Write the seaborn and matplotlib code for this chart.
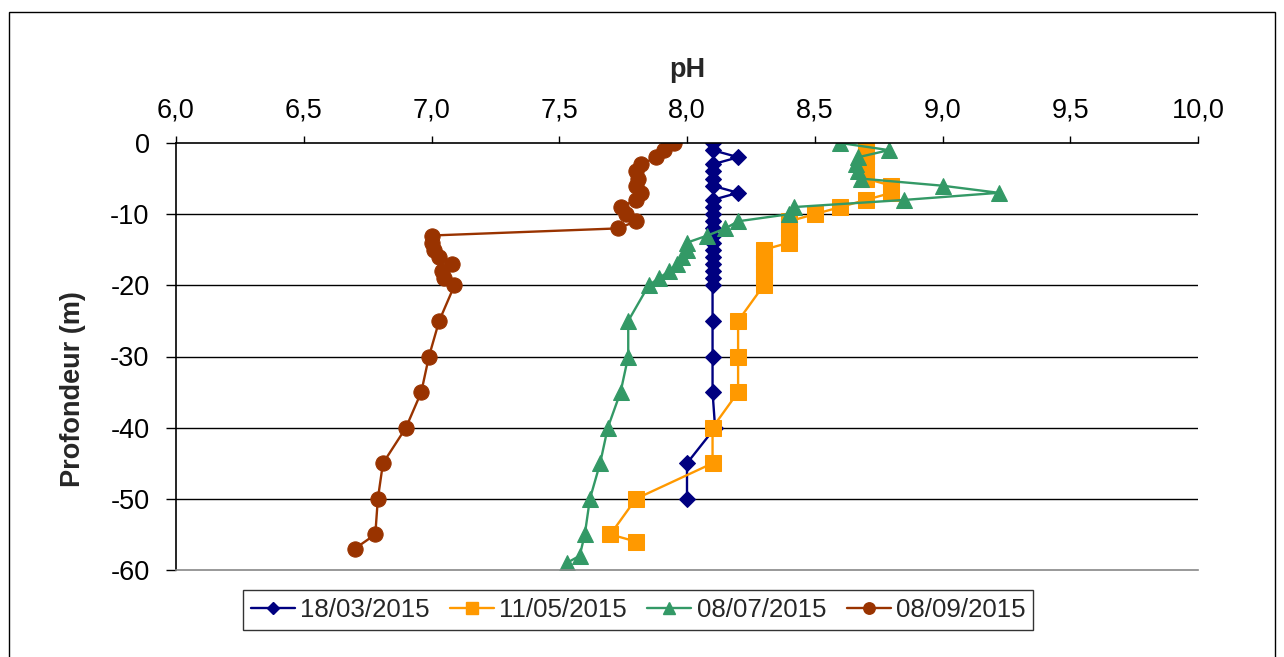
import matplotlib
matplotlib.use("Agg")
import matplotlib.pyplot as plt
import matplotlib.patches as mpatches
from matplotlib.lines import Line2D
import seaborn as sns

# ---- data ----
labels = ["18/03/2015", "11/05/2015", "08/07/2015", "08/09/2015"]

depth_mar = [0, -1, -2, -3, -4, -5, -6, -7, -8, -9, -10, -11, -12, -13, -14, -15, -16, -17, -18, -19, -20,
             -25, -30, -35, -40, -45, -50]
ph_mar = [8.1, 8.1, 8.2, 8.1, 8.1, 8.1, 8.1, 8.2, 8.1, 8.1, 8.1, 8.1, 8.1, 8.1, 8.1, 8.1, 8.1, 8.1, 8.1, 8.1, 8.1,
          8.1, 8.1, 8.1, 8.11, 8.0, 8.0]

depth_may = [0, -1, -2, -3, -4, -5, -6, -7, -8, -9, -10, -11, -12, -13, -14, -15, -16, -17, -18, -19, -20,
             -25, -30, -35, -40, -45, -50, -55, -56]
ph_may = [8.7, 8.7, 8.7, 8.7, 8.7, 8.7, 8.8, 8.8, 8.7, 8.6, 8.5, 8.4, 8.4, 8.4, 8.4, 8.3, 8.3, 8.3, 8.3, 8.3, 8.3,
          8.2, 8.2, 8.2, 8.1, 8.1, 7.8, 7.7, 7.8]

depth_jul = [0, -1, -2, -3, -4, -5, -6, -7, -8, -9, -10, -11, -12, -13, -14, -15, -16, -17, -18, -19, -20,
             -25, -30, -35, -40, -45, -50, -55, -58, -59]
ph_jul = [8.6, 8.79, 8.67, 8.66, 8.67, 8.68, 9.0, 9.22, 8.85, 8.42, 8.4, 8.2, 8.15, 8.08, 8.0, 8.0, 7.98, 7.96,
          7.93, 7.89, 7.85, 7.77, 7.77, 7.74, 7.69, 7.66, 7.62, 7.60, 7.58, 7.53]

depth_sep = [0, -1, -2, -3, -4, -5, -6, -7, -8, -9, -10, -11, -12, -13, -14, -15, -16, -17, -18, -19, -20,
             -25, -30, -35, -40, -45, -50, -55, -57]
ph_sep = [7.95, 7.91, 7.88, 7.82, 7.80, 7.81, 7.80, 7.82, 7.80, 7.74, 7.76, 7.80, 7.73, 7.0, 7.0, 7.01, 7.03,
          7.08, 7.04, 7.05, 7.09, 7.03, 6.99, 6.96, 6.90, 6.81, 6.79, 6.78, 6.70]

x_ticks = [6.0, 6.5, 7.0, 7.5, 8.0, 8.5, 9.0, 9.5, 10.0]
y_ticks = [0, -10, -20, -30, -40, -50, -60]

# ---- style ----
sns.set_style("white")
plt.rcParams["font.family"] = ["Liberation Sans", "DejaVu Sans"]
plt.rcParams["axes.unicode_minus"] = False

colors = ["#000080", "#FF9900", "#339966", "#993300"]
markers = ["D", "s", "^", "o"]
msizes = [8.5, 11.5, 12, 11]

fig = plt.figure(figsize=(12.84, 6.57), dpi=100)
ax = fig.add_axes([176 / 1284, 1 - 570 / 657, (1198 - 176) / 1284, (570 - 143) / 657])

series = [(ph_mar, depth_mar), (ph_may, depth_may), (ph_jul, depth_jul), (ph_sep, depth_sep)]
for (xv, yv), lab, c, m, ms in zip(series, labels, colors, markers, msizes):
    sns.lineplot(x=xv, y=yv, sort=False, estimator=None, ax=ax, color=c, marker=m,
                 markersize=ms, markeredgecolor=c, markerfacecolor=c, linewidth=1.7,
                 label=lab, legend=False)

ax.set_xlim(6, 10)
ax.set_ylim(-60, 0)

# gridlines
for yt in y_ticks[1:-1]:
    ax.axhline(yt, color="black", lw=1.0, zorder=0.5)

ax.xaxis.tick_top()
ax.xaxis.set_label_position("top")
ax.set_xticks(x_ticks)
ax.set_xticklabels([f"{v:.1f}".replace(".", ",") for v in x_ticks])
ax.set_yticks(y_ticks)
ax.set_yticklabels([str(v) for v in y_ticks])
ax.tick_params(axis="x", top=True, bottom=False, direction="out", length=5, width=1,
               labelsize=19.5, pad=9, colors="black")
ax.tick_params(axis="y", left=True, direction="out", length=7, width=1,
               labelsize=19.5, pad=12, colors="black")

ax.spines["right"].set_visible(False)
ax.spines["left"].set_color("black")
ax.spines["top"].set_color("black")
ax.spines["bottom"].set_color("#888888")
for s in ["left", "top", "bottom"]:
    ax.spines[s].set_linewidth(1.2)

ax.set_xlabel("pH", fontsize=19.5, fontweight="bold", labelpad=15)
ax.set_ylabel("Profondeur (m)", fontsize=19.5, fontweight="bold")
ax.yaxis.set_label_coords(-0.088, 0.424)

handles = [Line2D([], [], color=c, marker=m, markersize=ms * 0.75, markeredgecolor=c, lw=1.7)
           for c, m, ms in zip(colors, markers, msizes)]
leg = fig.legend(handles, labels, loc="center", bbox_to_anchor=(638 / 1284, 1 - 610 / 657),
                 ncol=4, fontsize=18.6, frameon=True, fancybox=False, edgecolor="black",
                 handlelength=1.7, handletextpad=0.2, columnspacing=0.8, borderpad=0.3)
leg.get_frame().set_linewidth(1.0)

# outer chart border
fig.patches.append(mpatches.Rectangle((9 / 1284, -0.01), (1275 - 9) / 1284, 1 - 12 / 657 + 0.01,
                                      transform=fig.transFigure, fill=False, edgecolor="black",
                                      lw=1.0, zorder=-1))

fig.savefig("out.png", dpi=100, facecolor="white")
